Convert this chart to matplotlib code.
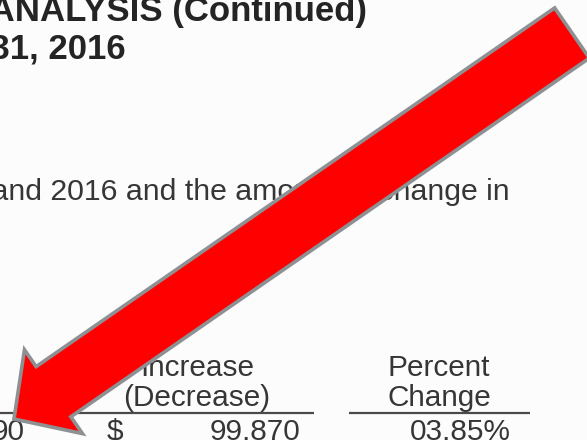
"""
Rebuild a cropped photo of a financial statement page with a big red
arrow pointing at the bottom-left figure.
"""

import matplotlib
matplotlib.use("Agg")
import matplotlib.pyplot as plt
from matplotlib.patches import FancyArrow

# Canvas size in pixels (1 data unit = 1 pixel)
W, H = 587, 440
DPI = 100

# Text content of the page
title_lines = [
    "MANAGEMENT'S DISCUSSION AND ANALYSIS (Continued)",
    "FOR THE YEAR ENDED DECEMBER 31, 2016",
]
title_right = [367, 126]      # right edge of each title line
title_base = [21, 58]         # baseline of each title line

body_line = "2015 and 2016 and the amount of change in"

col_heads = [("Increase", "(Decrease)"), ("Percent", "Change")]
col_centers = [197, 439]
col_rules = [(0, 314), (349, 530)]

row_labels = ["90", "$", "99,870", "03.85%"]
row_right = [25, 123, 300, 511]

# Arrow: tail centre, tip, widths (path runs along the middle of the grey rim)
arrow_tail = (572, 33)
arrow_tip = (14, 419)
shaft_w = 61
head_w = 102
head_len = 48

TEXT_DARK = "#242424"
TEXT_MID = "#363636"
BODY_SIZE = 21.4

fig = plt.figure(figsize=(W / DPI, H / DPI), dpi=DPI)
fig.patch.set_facecolor("#fcfcfc")
ax = fig.add_axes([0, 0, 1, 1])
ax.set_xlim(0, W)
ax.set_ylim(H, 0)
ax.axis("off")

# Title lines (bold)
for txt, xr, yb in zip(title_lines, title_right, title_base):
    ax.text(xr, yb, txt, ha="right", va="baseline", fontsize=25,
            fontweight="bold", family="Liberation Sans", color=TEXT_DARK)

# Body sentence
ax.text(510, 200, body_line, ha="right", va="baseline", fontsize=21.8,
        family="Liberation Sans", color=TEXT_MID)

# Column headers and rules
for (top, bot), xc in zip(col_heads, col_centers):
    ax.text(xc, 376, top, ha="center", va="baseline", fontsize=BODY_SIZE,
            family="Liberation Sans", color=TEXT_MID)
    ax.text(xc, 406, bot, ha="center", va="baseline", fontsize=BODY_SIZE,
            family="Liberation Sans", color=TEXT_MID)
for x0, x1 in col_rules:
    ax.plot([x0, x1], [413, 413], color="#4a4a4a", lw=1.6,
            solid_capstyle="butt")

# Figures row, mostly cut off at the bottom
for txt, xr in zip(row_labels, row_right):
    ax.text(xr, 440, txt, ha="right", va="baseline", fontsize=BODY_SIZE,
            family="Liberation Sans", color=TEXT_MID)

# The red arrow with grey outline
arrow = FancyArrow(
    arrow_tail[0], arrow_tail[1],
    arrow_tip[0] - arrow_tail[0], arrow_tip[1] - arrow_tail[1],
    width=shaft_w, head_width=head_w, head_length=head_len,
    length_includes_head=True, facecolor="#ff0000",
    edgecolor="#8d9193", linewidth=2.6, joinstyle="miter", zorder=5,
)
ax.add_patch(arrow)

fig.savefig("out.png", dpi=DPI, facecolor=fig.get_facecolor())
